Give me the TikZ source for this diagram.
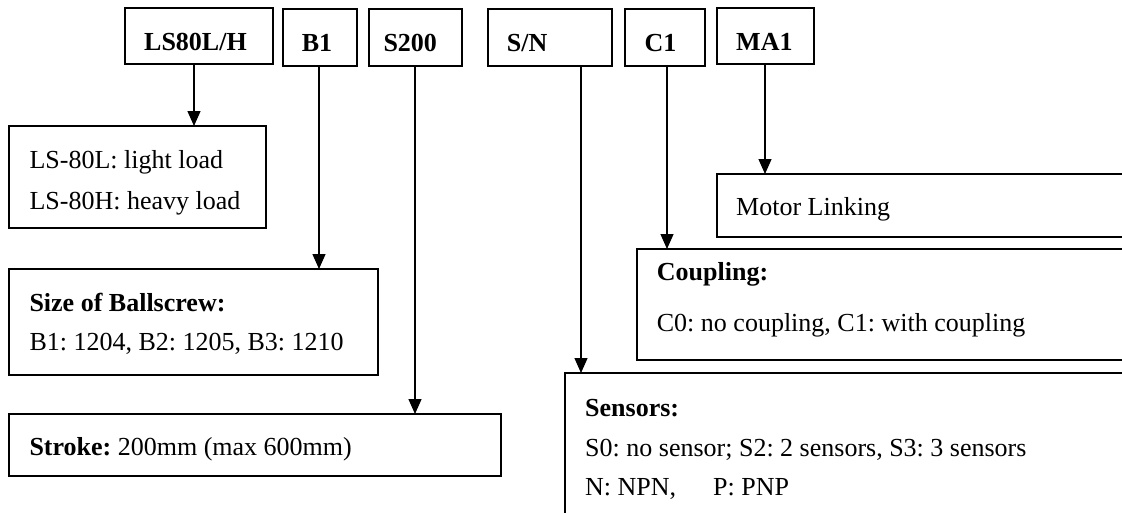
\documentclass[tikz,border=0pt]{standalone}
\usepackage{fontspec}
\setmainfont{Liberation Serif}
\frenchspacing
\usetikzlibrary{arrows.meta}
\begin{document}
\frenchspacing
\begin{tikzpicture}[x=1pt,y=-1pt,
  box/.style={draw, line width=1.6pt, rectangle, inner sep=0pt, outer sep=0pt, anchor=north west},
  lab/.style={anchor=base west, inner sep=0pt, font=\fontsize{26}{30}\selectfont\bfseries},
  txt/.style={anchor=base west, inner sep=0pt, font=\fontsize{26}{30}\selectfont},
  arr/.style={line width=1.3pt, -{Triangle[length=15pt,width=13pt]}}]
\useasboundingbox (0,0) rectangle (1122,512);
\clip (0,0) rectangle (1122,512);
% top code boxes
\node[box, minimum width=148pt, minimum height=56pt] (ls) at (125,8) {};
\node[box, minimum width=74pt, minimum height=57pt] (b1) at (283,9) {};
\node[box, minimum width=93pt, minimum height=57pt] (s200) at (369,9) {};
\node[box, minimum width=124pt, minimum height=57pt] (sn) at (488,9) {};
\node[box, minimum width=80pt, minimum height=57pt] (c1) at (625,9) {};
\node[box, minimum width=97pt, minimum height=56pt] (ma1) at (717,8) {};
\node[lab] (tls) at (144,50) {LS80L/H};
\node[lab] (tb1) at (301.7,51.7) {B1};
\node[lab] (ts200) at (383.3,51.7) {S200};
\node[lab] (tsn) at (506.7,51.7) {S/N};
\node[lab] (tc1) at (644.3,51.7) {C1};
\node[lab] (tma1) at (736,50) {MA1};
% description boxes
\node[box, minimum width=257pt, minimum height=102pt] (lsd) at (9,126) {};
\node[box, minimum width=369pt, minimum height=106pt] (sized) at (9,269) {};
\node[box, minimum width=492pt, minimum height=62pt] (stroked) at (9,414) {};
\node[box, minimum width=423pt, minimum height=63pt] (motord) at (717,174) {};
\node[box, minimum width=503pt, minimum height=111pt] (coupd) at (637,249) {};
\node[box, minimum width=575pt, minimum height=157pt] (sensd) at (565,373) {};
% texts
\node[txt] (l1) at (29.3,168.3) {LS-80L: light load};
\node[txt] (l2) at (29.3,209.3) {LS-80H: heavy load};
\node[txt] (z1) at (29.3,311) {\bfseries Size of Ballscrew:};
\node[txt] (z2) at (29.3,350.7) {B1: 1204, B2: 1205, B3: 1210};
\node[txt] (st) at (29.3,455) {\textbf{Stroke:} 200mm (max 600mm)};
\node[txt] (m1) at (736,215) {Motor Linking};
\node[txt] (c1a) at (656.7,280) {\bfseries Coupling:};
\node[txt] (c1b) at (656.7,331) {C0: no coupling, C1: with coupling};
\node[txt] (s1) at (585,416.7) {\bfseries Sensors:};
\node[txt] (s2) at (585,456.7) {S0: no sensor; S2: 2 sensors, S3: 3 sensors};
\node[txt] (s3) at (585,495.7) {\makebox[128pt][l]{N: NPN,}P: PNP};
% connectors
\draw[arr] (ls.south -| 194,0) -- (lsd.north -| 194,0);
\draw[arr] (b1.south -| 319,0) -- (sized.north -| 319,0);
\draw[arr] (s200.south -| 415,0) -- (stroked.north -| 415,0);
\draw[arr] (sn.south -| 581,0) -- (sensd.north -| 581,0);
\draw[arr] (c1.south -| 667,0) -- (coupd.north -| 667,0);
\draw[arr] (ma1.south -| 765,0) -- (motord.north -| 765,0);
\end{tikzpicture}
\end{document}
